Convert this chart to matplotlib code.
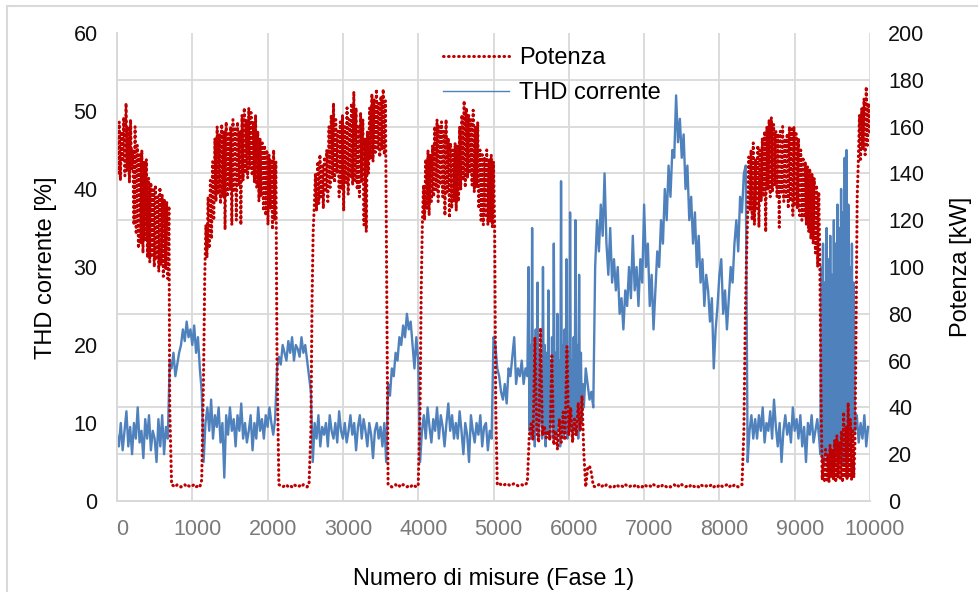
import numpy as np
import matplotlib.pyplot as plt
import matplotlib.transforms as mtransforms
from matplotlib.patches import Rectangle
from matplotlib.ticker import MultipleLocator

plt.rcParams['font.family'] = ['Liberation Sans', 'DejaVu Sans']

# ---- Potenza [kW] (right axis), read in pieces: (first measurement, spacing, values)
pot_run_1 = [155, 140, 162, 137, 158, 145, 164, 139, 170, 141, 160, 136, 163, 142,
             150, 118, 160, 114, 152,
             108, 148, 110, 150, 106, 145, 111, 146,
             104, 138, 102, 136, 105, 133, 100, 135, 103, 130, 98, 134, 101, 131, 96, 129, 99, 128, 95, 126]
pot_off_1 = [40, 7, 6.5, 6, 7, 6.5, 6, 6.5, 7, 6, 6.5, 6, 6.5, 7, 6, 6.5, 6, 9]
pot_run_2 = [55, 95, 118, 104, 130, 108, 137, 112, 145, 120,
             155, 128, 160, 131, 157, 127, 161, 130, 158, 116,
             162, 130, 157, 133, 160, 118, 163, 132, 159, 120, 162, 135, 158, 118, 165, 137, 168, 140, 163, 138,
             168, 142, 166, 139, 162, 136, 165, 134, 158, 128, 155, 130, 153, 124,
             152, 122, 150, 118, 148, 125, 146, 116, 150, 120, 145, 60]
pot_off_2 = [7, 6.5, 6, 6.5, 7, 6, 6.5, 6, 7, 6.5, 6, 6.5, 6, 7, 6.5, 6, 7, 30]
pot_run_3 = [85, 115, 126, 140, 124,
             145, 127, 148, 130, 144, 125, 147, 132, 150, 128,
             160, 134, 165, 138, 170, 136, 163, 140, 158,
             130, 162, 133, 165, 124, 160, 136, 168, 131, 163, 138, 170, 135, 175, 137, 168, 133, 160, 130, 166,
             136, 163, 118, 155,
             115, 158, 140, 168, 146, 174, 145, 172, 149, 176, 150, 170, 147, 173, 150, 176, 148, 171, 100]
pot_off_3 = [7, 6.5, 6, 6.5, 7, 6, 6.5, 6, 7, 6.5, 6, 6.5, 6, 7, 6.5, 6, 6.5]
pot_run_4 = [40, 90, 118, 135, 120,
             146, 125, 150, 122, 148, 128, 152,
             130, 160, 133, 163, 128, 160, 135, 162, 130, 158, 122, 163, 132, 155, 121, 153,
             125, 150, 128, 153, 124, 152, 128, 160,
             133, 165, 137, 171, 134, 168, 138, 165, 140, 163, 135, 167, 132, 160, 134, 162,
             125, 150, 120, 148, 118, 147, 122, 150, 118, 146, 119, 148, 117, 145, 118, 40]
pot_off_4 = [7, 7.5, 7, 6.5, 7, 7.5, 7, 6.5, 7, 7.5, 7, 6.5, 7, 7, 6.5, 7, 8,
             28, 33, 26, 70, 30, 25, 74, 28, 32, 27, 30, 26, 62, 24, 30, 22, 35, 25, 38, 26,
             66, 28, 40, 25, 35, 28, 42, 30, 45, 20,
             6, 14, 15, 12, 6.5,
             6, 6.5, 7, 6, 6.5, 6, 7, 6.5, 6, 6.5, 6, 7, 6.5, 6, 6.5, 6, 7, 6.5, 6, 6.5,
             6, 6.5, 7, 6, 6.5, 6, 7, 6.5, 6, 6.5, 6, 7, 6.5, 6, 6.5, 6, 7, 6.5, 6, 6.5,
             6, 6.5, 7, 6, 6.5, 6, 7, 6.5, 6, 6.5, 6, 7, 6.5, 6, 6.5, 6, 7, 6.5, 6, 6.5,
             6, 6.5, 7, 6, 6.5, 6, 7, 6.5, 6, 6.5, 7, 6, 6.5, 6, 7, 6.5, 6, 6.5, 7,
             30]
pot_run_5 = [80, 104, 122, 147, 124,
             150, 120, 153, 118, 146, 125, 152, 117, 150, 128, 155,
             130, 158, 115, 160, 133, 163, 130, 164, 132, 161, 135, 158, 130, 157,
             117, 158, 132, 160, 128, 155, 130, 157, 125, 160, 128, 159, 122, 160, 126, 157,
             125, 155, 122, 150, 120, 147, 121, 145, 118, 143, 115, 142, 112, 140,
             110, 138, 106, 135, 100, 132, 98, 45]
pot_low_5 = [9, 18, 8, 22, 9, 20, 8, 24, 10, 22, 9, 26, 8, 28, 10, 25, 9, 30, 8, 38,
             10, 32, 9, 42, 10, 35, 9, 30, 10, 25]
pot_run_6 = [75, 130, 145, 165, 146, 168, 150, 172, 148, 177, 152, 170, 156]

pot_segments = [
    (0, 15, pot_run_1), (700, 25, pot_off_1), (1150, 15, pot_run_2),
    (2150, 25, pot_off_2), (2590, 15, pot_run_3), (3600, 25, pot_off_3),
    (4025, 15, pot_run_4), (5050, 25, pot_off_4), (8345, 15, pot_run_5),
    (9365, 15, pot_low_5), (9815, 15, pot_run_6),
]

# ---- THD corrente [%] (left axis), same kind of pieces
thd_part_1 = [
    8.5, 7, 10, 6.5, 9, 11.5, 7, 9.5, 6, 10, 8, 12, 7.5, 9, 5.5, 10.5, 8, 11, 6.5, 9,  # 0
    8, 5, 10.5, 7, 11, 6, 9.5, 8, 18, 17, 19, 16, 17.5, 19, 20, 22, 20.5, 23, 21, 22,  # 500
    20, 22.5, 19, 21, 17, 14, 5, 10, 12, 9, 13, 8, 11, 9.5, 12, 7.5, 10, 3, 11, 8.5,  # 1000
    12, 9, 10.5, 7, 11, 9, 12.5, 8, 10, 7.5, 9, 11, 6.5, 10, 8, 12, 9, 10.5, 8, 11,  # 1500
    9.5, 12, 10, 8.5, 10.5, 17, 18.5, 17.5, 20, 19, 18, 20.5, 19, 21, 18, 20, 19.5, 18.5, 21, 19,  # 2000
    20, 18, 16, 14, 5, 10, 8, 11, 7, 9.5, 8.5, 10, 7, 11, 9, 8, 10, 7.5, 11.5, 9,  # 2500
    8, 10, 7.5, 9, 11, 8.5, 10, 6.5, 9.5, 11, 8, 10.5, 9, 7, 10, 8.5, 5.5, 9, 10, 8,  # 3000
    9.5, 7, 10, 5, 15, 13.5, 17, 16, 19, 18, 21, 20, 22.5, 21, 24, 22, 23, 20, 17, 21,  # 3500
    18, 5, 9, 11, 8, 12, 9.5, 7.5, 10.5, 9, 12, 8, 11, 9.5, 7, 10, 12.5, 9, 11, 8,  # 4000
    10, 8, 11.5, 9, 6, 10, 8.5, 5, 11, 9, 7.5, 10, 8.5, 11, 7, 9.5, 10, 6.5, 9, 8,  # 4500
    21, 20, 17, 16, 14, 13, 15, 12.5, 17, 16, 18.5, 21, 15, 17, 16, 18, 15, 17, 16,  # 5000
]
thd_dense_1 = [30, 9, 20, 8, 35, 9, 18, 7, 22, 9, 28, 8, 19, 10, 17, 8, 30, 9, 20, 7,
               19, 9, 27, 8, 18, 10, 21, 8, 33, 9, 19, 8, 24, 10, 18, 7, 41, 9, 20, 8,
               22, 9, 31, 8, 19, 10, 37, 9, 18, 8, 21, 9, 36, 10, 20, 8, 29, 9, 19, 10, 15]
thd_part_2 = [
    12, 17, 15, 13, 14, 12, 30, 36, 32, 38, 34, 42,  # 6200
    33, 29, 35, 28, 31, 27, 30, 24, 26, 22, 27, 25, 30, 26, 34, 27, 30, 25, 31, 28,  # 6500
    38, 30, 33, 25, 29, 22, 27, 32, 30, 36, 33, 40, 36, 43, 39, 45, 44, 52, 46, 49,  # 7000
    44, 47, 40, 43, 36, 39, 33, 37, 30, 34, 28, 31, 25, 29, 27, 23, 26, 17, 22, 25,  # 7500
    29, 31, 24, 27, 22, 26, 30, 28, 33, 36, 32, 39, 37, 42, 43, 5, 9, 11, 8, 10.5,  # 8000
    8, 11, 9, 12, 7.5, 10, 9, 11.5, 8, 13, 9.5, 7, 10, 5, 9, 11, 8.5, 10, 7.5, 12,  # 8500
    9, 10.5, 8, 11, 7, 9.5, 5, 10, 8.5, 11, 7.5, 9, 10.5, 8,  # 9000
]
thd_dense_2 = [6, 30, 5, 33, 4.5, 28, 6, 35, 5, 31, 4, 34, 6, 29, 5, 36, 4.5, 33, 6, 38,
               5, 35, 6, 40, 5, 37, 4.5, 44, 6, 45, 5, 38, 7, 30, 6, 33, 8, 28]
thd_part_3 = [9, 11, 7.5, 10, 8, 11, 7, 9.5]

thd_segments = [
    (0, 25, thd_part_1), (5465, 12, thd_dense_1), (6200, 25, thd_part_2),
    (9340, 12, thd_dense_2), (9800, 25, thd_part_3),
]

x_pot = np.concatenate([s + d * np.arange(len(v)) for s, d, v in pot_segments])
potenza_kw = np.concatenate([np.asarray(v, dtype=float) for s, d, v in pot_segments])
x_thd = np.concatenate([s + d * np.arange(len(v)) for s, d, v in thd_segments])
thd_corrente = np.concatenate([np.asarray(v, dtype=float) for s, d, v in thd_segments])

red = '#C00000'
blue = '#4F81BD'
grid_c = '#D9D9D9'

fig = plt.figure(figsize=(9.79, 5.92), dpi=100)
ax = fig.add_axes([117 / 979, 1 - 501 / 592, 753 / 979, 468 / 592])
ax2 = ax.twinx()

ax.plot(x_thd, thd_corrente, color=blue, lw=1.7, label='THD corrente')
ax2.plot(x_pot, potenza_kw, color=red, lw=2.2, linestyle=(0, (0.2, 1.45)),
         dash_capstyle='round', label='Potenza')

ax.set_xlim(0, 10000)
ax.set_ylim(0, 60)
ax2.set_ylim(0, 200)
ax.set_xticks(np.arange(0, 10001, 1000))
ax.set_yticks(np.arange(0, 61, 10))
ax2.set_yticks(np.arange(0, 201, 20))

# horizontal grid follows the right axis (every 20 kW = 6 %)
ax.yaxis.set_minor_locator(MultipleLocator(6))
ax.grid(which='minor', axis='y', color=grid_c, lw=1.3)
ax.grid(which='major', axis='x', color=grid_c, lw=1.3)
ax.set_axisbelow(True)

ax.tick_params(axis='both', which='both', length=0)
ax2.tick_params(axis='both', which='both', length=0)
ax.tick_params(axis='x', labelsize=15.5, labelcolor='#7A7A7A', pad=13)
ax.tick_params(axis='y', labelsize=15.5, labelcolor='#111111', pad=14)
ax2.tick_params(axis='y', labelsize=15.5, labelcolor='#111111', pad=13)

offset = mtransforms.ScaledTranslation(5 / 100, 0, fig.dpi_scale_trans)
for lab in ax.get_xticklabels():
    lab.set_transform(lab.get_transform() + offset)

for a in (ax, ax2):
    for s in ('top', 'right'):
        a.spines[s].set_visible(False)
    a.spines['left'].set_color(grid_c)
    a.spines['bottom'].set_color(grid_c)
    a.spines['left'].set_linewidth(1.3)
    a.spines['bottom'].set_linewidth(1.3)

ax.set_xlabel('Numero di misure (Fase 1)', fontsize=17, labelpad=20)
fig.text(46 / 979, 1 - 268 / 592, 'THD corrente [%]', rotation=90,
         ha='center', va='center', fontsize=17)
fig.text(961 / 979, 1 - 267 / 592, 'Potenza [kW]', rotation=90,
         ha='center', va='center', fontsize=17)

h1, l1 = ax2.get_legend_handles_labels()
h2, l2 = ax.get_legend_handles_labels()
leg = ax2.legend(h1 + h2, l1 + l2, loc='upper left', bbox_to_anchor=(0.433, 0.97),
                 frameon=False, fontsize=17, handlelength=2.8, handletextpad=0.42,
                 labelspacing=0.55, borderpad=0, borderaxespad=0)
leg.get_lines()[1].set_linewidth(1.0)

fig.patches.append(Rectangle((7 / 979, -0.1), 1.2, 1.1 - 6 / 592,
                             transform=fig.transFigure, fill=False,
                             edgecolor=grid_c, lw=1.5))

fig.savefig('out.png', dpi=100)
